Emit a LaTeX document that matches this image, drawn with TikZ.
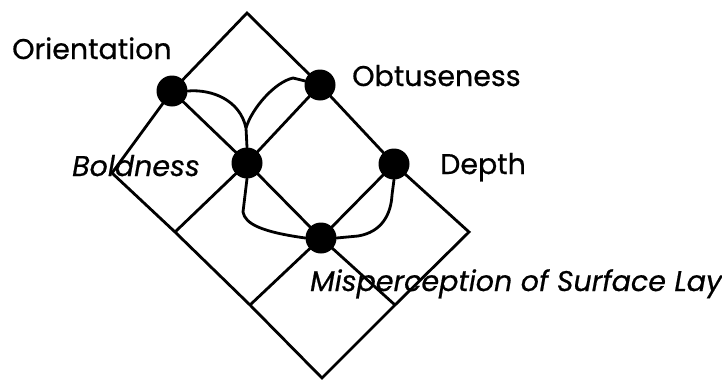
\documentclass[tikz,border=0pt]{standalone}
\usepackage{fontspec}
\setmainfont{Poppins}[FakeBold=0.6]
\begin{document}
\begin{tikzpicture}[x=1pt,y=-1pt,
  gridline/.style={line width=2.8pt, line join=miter},
  wiggle/.style={line width=2.8pt, line cap=round, line join=round},
  dot/.style={circle, fill=black, draw=none, inner sep=0pt, minimum size=31pt},
  lbl/.style={anchor=base west, inner sep=0pt, font=\fontsize{28.5}{32}\selectfont},
  ilbl/.style={anchor=base west, inner sep=0pt, font=\fontsize{28.5}{32}\selectfont\itshape}]
\useasboundingbox (0,0) rectangle (722,380);
\clip (0,0) rectangle (722,380);
% grid points
\coordinate (T) at (247,13);
\coordinate (cOb) at (320,85);
\coordinate (cD) at (394,164);
\coordinate (R) at (469,232);
\coordinate (cO) at (172,91);
\coordinate (cB) at (247,163);
\coordinate (cM) at (321,238);
\coordinate (P3) at (395,305);
\coordinate (L) at (112,173);
\coordinate (P1) at (175,232);
\coordinate (P2) at (250,305);
\coordinate (Bt) at (322,378);
% grid
\draw[gridline] (T) -- (cOb) -- (cD) -- (R) -- (P3) -- (Bt) -- (P2) -- (P1) -- (L) -- (cO) -- cycle;
\draw[gridline] (cO) -- (cB) -- (cM) -- (P3);
\draw[gridline] (cOb) -- (cB) -- (P1);
\draw[gridline] (cD) -- (cM) -- (P2);
% dots
\node[dot] (O) at (cO) {};
\node[dot] (Ob) at (cOb) {};
\node[dot] (B) at (cB) {};
\node[dot] (D) at (cD) {};
\node[dot] (M) at (cM) {};
% hand-drawn links
\coordinate (J) at (246,128);
\draw[wiggle] (O.east) .. controls (212,89) and (240,100) .. (J) -- (B.north);
\draw[wiggle] (Ob.165) -- (293,78) .. controls (275,82) and (252,108) .. (J);
\draw[wiggle] (B.south) -- (243,212) .. controls (245,224) and (262,232) .. (M.west);
\draw[wiggle] (M.east) -- (358,236) .. controls (382,232) and (391,214) .. (392,195) -- (D.south);
% labels
\node[lbl] (tOr) at (12,59) {Orientation};
\node[lbl] (tOb) at (352,86) {Obtuseness};
\node[ilbl] (tBo) at (72,176) {Boldness};
\node[lbl] (tDe) at (440,174) {Depth};
\node[ilbl] (tMi) at (310,291) {Misperception of Surface Layers};
\end{tikzpicture}
\end{document}
